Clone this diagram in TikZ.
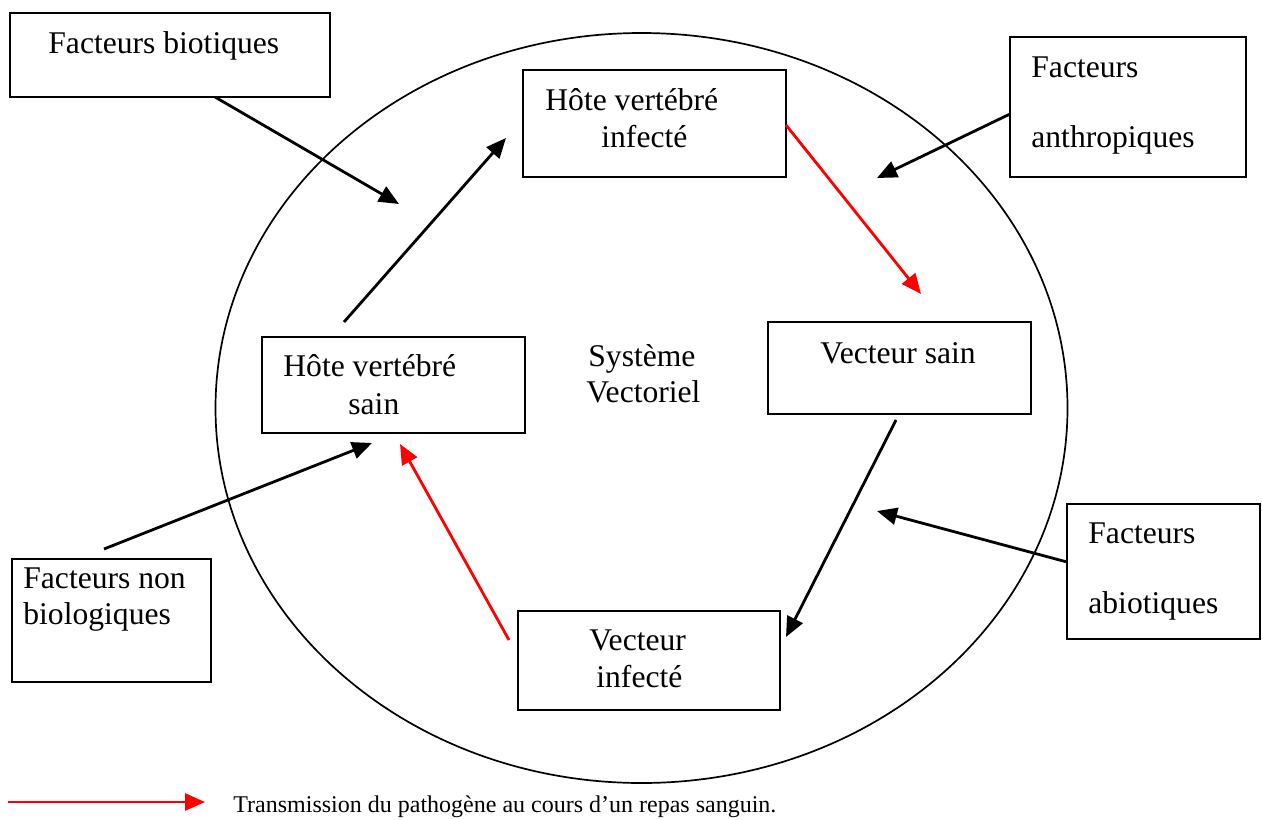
\documentclass[tikz,border=0pt]{standalone}
\usepackage{fontspec}
\setmainfont{Liberation Serif}
\usetikzlibrary{arrows.meta,fit}
\begin{document}
\begin{tikzpicture}[x=0.5pt,y=-0.5pt,
  box/.style={draw, line width=0.9pt, inner sep=0pt},
  lbl/.style={anchor=base west, inner sep=0pt, font=\fontsize{15.8}{18}\selectfont},
  conn/.style={line width=1.4pt, -{Triangle[length=10pt,width=8.5pt]}},
  blood/.style={conn, draw=red, fill=red}]
\useasboundingbox (0,0) rectangle (1262,819);

% the vector system
\draw[line width=0.85pt] (641.5,408) ellipse [x radius=213pt, y radius=187.5pt];
\node[lbl] (sys1) at (588,366) {Système};
\node[lbl] (sys2) at (586,402) {Vectoriel};

% boxes
\node[box, fit={(10,13) (330,97)}] (bio) {};
\node[box, fit={(523,70) (786,177)}] (hinf) {};
\node[box, fit={(1010,37) (1246,177)}] (anth) {};
\node[box, fit={(262,337) (525,433)}] (hsain) {};
\node[box, fit={(768,322) (1031,414)}] (vsain) {};
\node[box, fit={(1067,504) (1260,639)}] (abio) {};
\node[box, fit={(518,611) (780,710)}] (vinf) {};
\node[box, fit={(12,559) (211,682)}] (nonbio) {};

% box texts
\node[lbl] (bioT) at (48,53) {Facteurs biotiques};
\node[lbl] (hinfA) at (545,110) {Hôte vertébré};
\node[lbl] (hinfB) at (601,147) {infecté};
\node[lbl] (anthA) at (1031,77) {Facteurs};
\node[lbl] (anthB) at (1031,147) {anthropiques};
\node[lbl] (hsainA) at (283,376) {Hôte vertébré};
\node[lbl] (hsainB) at (348,414) {sain};
\node[lbl] (vsainT) at (820,363) {Vecteur sain};
\node[lbl] (abioA) at (1088,543) {Facteurs};
\node[lbl] (abioB) at (1088,613) {abiotiques};
\node[lbl] (vinfA) at (589,650) {Vecteur};
\node[lbl] (vinfB) at (596,687) {infecté};
\node[lbl] (nonbioA) at (23,588) {Facteurs non};
\node[lbl] (nonbioB) at (23,624) {biologiques};

% connector ends
\coordinate (bioOut) at (215,97);
\coordinate (bioIn) at (399,204);
\coordinate (anthOut) at (1010,114);
\coordinate (anthIn) at (877,178);
\coordinate (hinfOut) at (786,125);
\coordinate (vsainIn) at (921,294);
\coordinate (vsainOut) at (896,420);
\coordinate (vinfIn) at (786,637);
\coordinate (abioOut) at (1067,562);
\coordinate (abioIn) at (877,511);
\coordinate (vinfOut) at (509,640);
\coordinate (hsainIn) at (400,444);
\coordinate (nonbioOut) at (104,549);
\coordinate (nonbioIn) at (372,443);
\coordinate (hsainOut) at (344,322);
\coordinate (hinfIn) at (506,138);

% connectors
\draw[conn] (bioOut) -- (bioIn);
\draw[conn] (anthOut) -- (anthIn);
\draw[blood] (hinfOut) -- (vsainIn);
\draw[conn] (vsainOut) -- (vinfIn);
\draw[conn] (abioOut) -- (abioIn);
\draw[blood] (vinfOut) -- (hsainIn);
\draw[conn] (nonbioOut) -- (nonbioIn);
\draw[conn] (hsainOut) -- (hinfIn);

% legend
\coordinate (legA) at (8,802);
\coordinate (legB) at (205,802);
\draw[blood] (legA) -- (legB);
\node[anchor=base west, inner sep=0pt, font=\fontsize{12}{14}\selectfont] (legT) at (233,812)
  {Transmission du pathogène au cours d’un repas sanguin.};
\end{tikzpicture}
\end{document}
